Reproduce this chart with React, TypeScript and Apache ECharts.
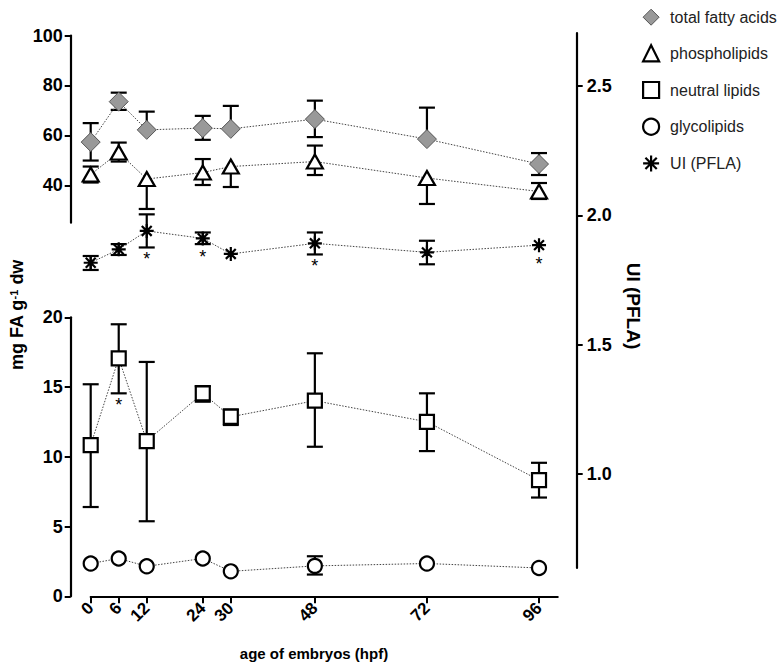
import React, { useEffect, useRef } from "react";
import * as echarts from "echarts";

// ---------- data ----------
const hours = [0, 6, 12, 24, 30, 48, 72, 96];
const xTickValues = [0, 6, 12, 24, 30, 48, 72, 96];
const leftTopTicks = [40, 60, 80, 100];
const rightTicks = [1.0, 1.5, 2.0, 2.5];

const seriesNames = ["total fatty acids", "phospholipids", "neutral lipids", "glycolipids", "UI (PFLA)"];

const totalFA = [57.3, 73.5, 62.2, 62.9, 62.6, 66.5, 58.5, 48.5];
const totalFALow = [49.9, 70.2, null, 58.2, null, 59.3, null, 44.1];
const totalFAHigh = [64.9, 77.1, 69.5, 67.8, 71.8, 73.9, 71.1, 52.9];

const phospho = [44.3, 53.1, 42.5, 45.1, 47.5, 49.5, 42.9, 37.5];
const phosphoLow = [41.1, 49.5, 30.5, 40.1, 39.3, 44.1, 32.5, 34.5];
const phosphoHigh = [47.5, 57.1, null, 50.5, null, 55.9, null, 40.9];

const neutral = [10.84, 17.06, 11.13, 14.55, 12.87, 14.02, 12.51, 8.33];
const neutralLow = [6.4, 14.55, 5.38, 13.95, 12.28, 10.72, 10.41, 7.08];
const neutralHigh = [15.2, 19.5, 16.8, 15.07, 13.4, 17.42, 14.55, 9.57];

const glyco = [2.35, 2.71, 2.15, 2.71, 1.79, 2.18, 2.35, 2.03];
const glycoLow = [null, null, null, null, null, 1.56, null, null];
const glycoHigh = [null, null, null, null, null, 2.87, null, null];

const ui = [1.817, 1.869, 1.94, 1.911, 1.851, 1.892, 1.857, 1.885];
const uiLow = [1.789, 1.847, 1.876, 1.889, null, 1.849, 1.811, null];
const uiHigh = [1.843, 1.889, 2.004, 1.934, null, 1.934, 1.902, null];

const uiSignificant = [12, 24, 48, 96];
const neutralSignificant = [6];

// ---------- styling helpers ----------
const FONT = "'Liberation Sans', Arial, Helvetica, sans-serif";
const STAR_PATH = "path://M0,-10L0,10M-10,0L10,0M-7.07,-7.07L7.07,7.07M-7.07,7.07L7.07,-7.07";

const pairs = (vals: number[]) => hours.map((h, i) => [h, vals[i]]);

function errorBars(xi: number, yi: number, vals: number[], lows: (number | null)[], highs: (number | null)[]) {
  return {
    type: "custom",
    xAxisIndex: xi,
    yAxisIndex: yi,
    silent: true,
    z: 2,
    itemStyle: { color: "#000" },
    encode: { x: 0, y: 1 },
    data: hours.map((h, i) => [h, vals[i], lows[i] == null ? NaN : lows[i], highs[i] == null ? NaN : highs[i]]),
    renderItem: (params: any, api: any) => {
      const x = api.value(0);
      const v = api.value(1);
      const c = api.coord([x, v]);
      const children: any[] = [];
      const style = { stroke: "#000", lineWidth: 2.2 };
      const cap = 8;
      [api.value(2), api.value(3)].forEach((e: number) => {
        if (e == null || isNaN(e)) return;
        const p = api.coord([x, e]);
        children.push({ type: "line", shape: { x1: c[0], y1: c[1], x2: p[0], y2: p[1] }, style });
        children.push({ type: "line", shape: { x1: c[0] - cap, y1: p[1], x2: c[0] + cap, y2: p[1] }, style });
      });
      return { type: "group", children };
    },
  };
}

function sigMarks(xi: number, yi: number, sig: number[], vals: number[], lows: (number | null)[]) {
  const data = hours
    .map((h, i) => [h, vals[i], lows[i] == null ? NaN : lows[i]])
    .filter((d) => sig.indexOf(d[0] as number) >= 0);
  return {
    type: "custom",
    xAxisIndex: xi,
    yAxisIndex: yi,
    silent: true,
    z: 4,
    itemStyle: { color: "#000" },
    encode: { x: 0, y: 1 },
    data,
    renderItem: (params: any, api: any) => {
      const x = api.value(0);
      const c = api.coord([x, api.value(1)]);
      let base = c[1] + 7;
      const lo = api.value(2);
      if (lo != null && !isNaN(lo)) base = Math.max(base, api.coord([x, lo])[1]);
      return {
        type: "text",
        x: c[0],
        y: base + 12,
        style: { text: "*", fontSize: 18, fontFamily: FONT, fill: "#000", stroke: "none", align: "center", verticalAlign: "middle" },
      };
    },
  };
}

const lineBase = {
  type: "line",
  lineStyle: { color: "#444", width: 1, type: [1.5, 1.5] },
  z: 3,
  showSymbol: true,
};

export default function App() {
  const ref = useRef<HTMLDivElement>(null);
  useEffect(() => {
    if (!ref.current) return;
    const chart = echarts.init(ref.current, null, { renderer: "svg" });
    const gridLeft = 90.7;
    const gridWidth = 467;
    const hiddenX = (gi: number) => ({ type: "value", gridIndex: gi, min: 0, max: 100, show: false });
    const boldLabel = { color: "#000", fontSize: 18, fontWeight: "bold", fontFamily: FONT };
    const axisLine = { show: true, onZero: false, lineStyle: { color: "#000", width: 2.2 } };

    const option: any = {
      animation: false,
      backgroundColor: "#fff",
      grid: [
        { left: gridLeft, width: gridWidth, top: 35.5, height: 187.2 },
        { left: gridLeft, width: gridWidth, top: 317.3, height: 279 },
        { left: gridLeft, width: gridWidth, top: 33, height: 535 },
      ],
      xAxis: [
        hiddenX(0),
        {
          type: "value",
          gridIndex: 1,
          min: 0,
          max: 100,
          axisLine,
          axisTick: { show: true, length: 7, lineStyle: { color: "#000", width: 2 }, customValues: xTickValues },
          axisLabel: { ...boldLabel, fontSize: 17, rotate: 45, margin: 9, customValues: xTickValues },
          splitLine: { show: false },
        },
        hiddenX(2),
      ],
      yAxis: [
        {
          type: "value",
          gridIndex: 0,
          min: 25,
          max: 100,
          position: "left",
          offset: 20,
          axisLine,
          axisTick: { show: true, length: 6, lineStyle: { color: "#000", width: 2 }, customValues: leftTopTicks },
          axisLabel: { ...boldLabel, margin: 8, customValues: leftTopTicks },
          splitLine: { show: false },
        },
        {
          type: "value",
          gridIndex: 1,
          min: 0,
          max: 20,
          interval: 5,
          position: "left",
          offset: 20,
          axisLine,
          axisTick: { show: true, length: 6, lineStyle: { color: "#000", width: 2 } },
          axisLabel: { ...boldLabel, margin: 8 },
          splitLine: { show: false },
        },
        {
          type: "value",
          gridIndex: 2,
          min: 0.637,
          max: 2.705,
          position: "right",
          offset: 19,
          axisLine,
          axisTick: { show: true, length: 6, lineStyle: { color: "#000", width: 2 }, customValues: rightTicks },
          axisLabel: { ...boldLabel, margin: 10, customValues: rightTicks, formatter: (v: number) => v.toFixed(1) },
          splitLine: { show: false },
        },
      ],
      legend: {
        orient: "vertical",
        left: 637,
        top: 3.7,
        itemWidth: 16,
        itemHeight: 16,
        itemGap: 18.5,
        selectedMode: false,
        textStyle: { fontSize: 16, color: "#222", fontFamily: FONT, padding: [0, 0, 0, 6] },
        data: [
          { name: seriesNames[0], icon: "diamond", itemStyle: { color: "#999", borderColor: "#555", borderWidth: 1 } },
          { name: seriesNames[1], icon: "triangle", itemStyle: { color: "#fff", borderColor: "#000", borderWidth: 2.2 } },
          { name: seriesNames[2], icon: "rect", itemStyle: { color: "#fff", borderColor: "#000", borderWidth: 2.2 } },
          { name: seriesNames[3], icon: "circle", itemStyle: { color: "#fff", borderColor: "#000", borderWidth: 2.2 } },
          { name: seriesNames[4], icon: STAR_PATH, itemStyle: { color: "#000", borderColor: "#000", borderWidth: 2.2 } },
        ],
      },
      graphic: [
        {
          type: "text",
          x: 17,
          y: 315,
          rotation: Math.PI / 2,
          style: {
            text: "{a|mg FA g}{s|-1}{a| dw}",
            align: "center",
            verticalAlign: "middle",
            rich: {
              a: { fontSize: 18, fontWeight: "bold", fontFamily: FONT, fill: "#000" },
              s: { fontSize: 11, fontWeight: "bold", fontFamily: FONT, fill: "#000", verticalAlign: "top" },
            },
          },
        },
        {
          type: "text",
          x: 633,
          y: 306,
          rotation: -Math.PI / 2,
          style: { text: "UI (PFLA)", align: "center", verticalAlign: "middle", fontSize: 19, fontWeight: "bold", fontFamily: FONT, fill: "#000" },
        },
        {
          type: "text",
          x: 314,
          y: 653,
          style: { text: "age of embryos (hpf)", align: "center", verticalAlign: "middle", fontSize: 15, fontWeight: "bold", fontFamily: FONT, fill: "#000" },
        },
      ],
      series: [
        errorBars(0, 0, totalFA, totalFALow, totalFAHigh),
        errorBars(0, 0, phospho, phosphoLow, phosphoHigh),
        errorBars(1, 1, neutral, neutralLow, neutralHigh),
        errorBars(1, 1, glyco, glycoLow, glycoHigh),
        errorBars(2, 2, ui, uiLow, uiHigh),
        {
          ...lineBase,
          name: seriesNames[0],
          xAxisIndex: 0,
          yAxisIndex: 0,
          data: pairs(totalFA),
          symbol: "diamond",
          symbolSize: 19,
          itemStyle: { color: "#999", borderColor: "#555", borderWidth: 1 },
        },
        {
          ...lineBase,
          name: seriesNames[1],
          xAxisIndex: 0,
          yAxisIndex: 0,
          data: pairs(phospho),
          symbol: "triangle",
          symbolSize: [16, 14],
          itemStyle: { color: "#fff", borderColor: "#000", borderWidth: 2.2 },
        },
        {
          ...lineBase,
          name: seriesNames[2],
          xAxisIndex: 1,
          yAxisIndex: 1,
          data: pairs(neutral),
          symbol: "rect",
          symbolSize: 14,
          itemStyle: { color: "#fff", borderColor: "#000", borderWidth: 2.2 },
        },
        {
          ...lineBase,
          name: seriesNames[3],
          xAxisIndex: 1,
          yAxisIndex: 1,
          data: pairs(glyco),
          symbol: "circle",
          symbolSize: 14,
          itemStyle: { color: "#fff", borderColor: "#000", borderWidth: 2.2 },
        },
        {
          ...lineBase,
          name: seriesNames[4],
          xAxisIndex: 2,
          yAxisIndex: 2,
          data: pairs(ui),
          symbol: STAR_PATH,
          symbolSize: 14,
          itemStyle: { color: "#000", borderColor: "#000", borderWidth: 2.2 },
        },
        sigMarks(2, 2, uiSignificant, ui, uiLow),
        sigMarks(1, 1, neutralSignificant, neutral, neutralLow),
      ],
    };
    chart.setOption(option);
    return () => chart.dispose();
  }, []);
  return (
    <div
      ref={ref}
      style={{ position: "fixed", left: 0, top: 0, width: 782, height: 668, background: "#fff" }}
    />
  );
}
